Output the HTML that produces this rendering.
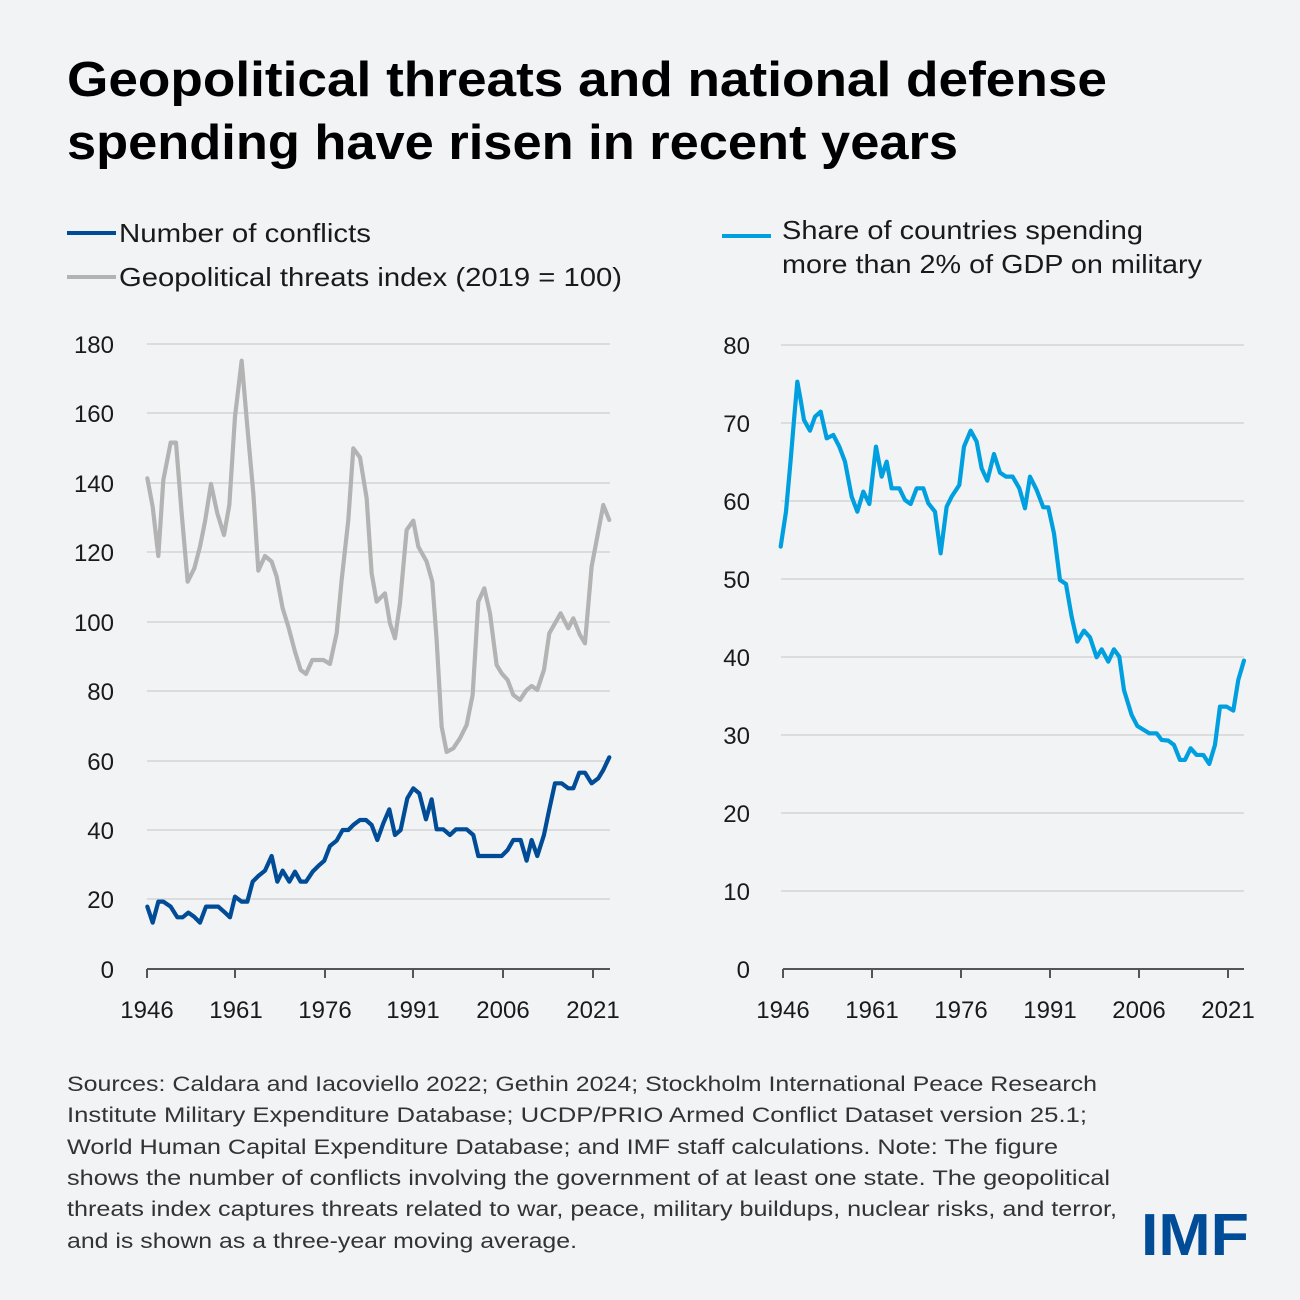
<!DOCTYPE html>
<html><head><meta charset="utf-8"><style>
html,body{margin:0;padding:0;background:#f2f3f5;}
svg{display:block;}
text{font-family:"Liberation Sans",sans-serif;fill:#1a1a1a;}
</style></head><body>
<svg width="1300" height="1300" viewBox="0 0 1300 1300" xmlns="http://www.w3.org/2000/svg">
<rect width="1300" height="1300" fill="#f2f3f5"/>
<text x="67" y="96" font-size="49" font-weight="bold" textLength="1040" lengthAdjust="spacingAndGlyphs" style="fill:#000">Geopolitical threats and national defense</text>
<text x="67" y="159" font-size="49" font-weight="bold" textLength="891" lengthAdjust="spacingAndGlyphs" style="fill:#000">spending have risen in recent years</text>

<line x1="67" y1="233" x2="116" y2="233" stroke="#004c97" stroke-width="4"/>
<text x="119" y="242" font-size="26" textLength="252" lengthAdjust="spacingAndGlyphs">Number of conflicts</text>
<line x1="67" y1="277" x2="116" y2="277" stroke="#b3b3b3" stroke-width="4"/>
<text x="119" y="286" font-size="26" textLength="503" lengthAdjust="spacingAndGlyphs">Geopolitical threats index (2019 = 100)</text>
<line x1="722" y1="236" x2="771" y2="236" stroke="#009fdf" stroke-width="4"/>
<text x="782" y="239" font-size="26" textLength="361" lengthAdjust="spacingAndGlyphs">Share of countries spending</text>
<text x="782" y="273" font-size="26" textLength="420" lengthAdjust="spacingAndGlyphs">more than 2% of GDP on military</text>

<g stroke="#dcdcdc" stroke-width="2">
<line x1="147" y1="344" x2="610" y2="344"/><line x1="147" y1="413" x2="610" y2="413"/><line x1="147" y1="483" x2="610" y2="483"/><line x1="147" y1="552" x2="610" y2="552"/><line x1="147" y1="622" x2="610" y2="622"/><line x1="147" y1="691" x2="610" y2="691"/><line x1="147" y1="761" x2="610" y2="761"/><line x1="147" y1="830" x2="610" y2="830"/><line x1="147" y1="899" x2="610" y2="899"/>
<line x1="781" y1="345" x2="1244" y2="345"/><line x1="781" y1="423" x2="1244" y2="423"/><line x1="781" y1="501" x2="1244" y2="501"/><line x1="781" y1="579" x2="1244" y2="579"/><line x1="781" y1="657" x2="1244" y2="657"/><line x1="781" y1="735" x2="1244" y2="735"/><line x1="781" y1="813" x2="1244" y2="813"/><line x1="781" y1="891" x2="1244" y2="891"/>
</g>
<g font-size="24" text-anchor="end">
<text x="114" y="353">180</text><text x="114" y="422">160</text><text x="114" y="492">140</text><text x="114" y="561">120</text><text x="114" y="631">100</text><text x="114" y="700">80</text><text x="114" y="770">60</text><text x="114" y="839">40</text><text x="114" y="908">20</text><text x="114" y="978">0</text>
<text x="750" y="354">80</text><text x="750" y="432">70</text><text x="750" y="510">60</text><text x="750" y="588">50</text><text x="750" y="666">40</text><text x="750" y="744">30</text><text x="750" y="822">20</text><text x="750" y="900">10</text><text x="750" y="978">0</text>
</g>
<g stroke="#555" stroke-width="2" fill="none">
<path d="M147 969H610M147 969v9M235 969v9M325 969v9M413 969v9M503 969v9M593 969v9"/>
<path d="M783 969H1244M783 969v9M872 969v9M961 969v9M1050 969v9M1139 969v9M1228 969v9"/>
</g>
<g font-size="24" text-anchor="middle">
<text x="147" y="1018">1946</text><text x="236" y="1018">1961</text><text x="325" y="1018">1976</text><text x="413" y="1018">1991</text><text x="503" y="1018">2006</text><text x="593" y="1018">2021</text>
<text x="783" y="1018">1946</text><text x="872" y="1018">1961</text><text x="961" y="1018">1976</text><text x="1050" y="1018">1991</text><text x="1139" y="1018">2006</text><text x="1228" y="1018">2021</text>
</g>

<g transform="translate(140,340) scale(0.3333)" fill="none" stroke-linejoin="round" stroke-linecap="round">
<polyline vector-effect="non-scaling-stroke" stroke="#b3b3b3" stroke-width="4.2" points="22,415 38,500 55,648 70,420 92,308 108,308 125,520 143,725 163,685 180,620 195,545 213,432 232,520 252,585 268,495 285,230 305,62 322,260 340,460 355,692 375,648 395,665 410,710 428,805 445,860 465,935 482,990 498,1002 517,960 550,960 570,972 590,880 605,720 625,540 640,325 660,352 680,475 695,700 710,785 735,760 750,850 765,895 780,790 800,570 820,542 835,620 860,665 877,725 890,900 905,1160 920,1236 940,1225 960,1195 980,1155 998,1065 1015,785 1033,745 1050,820 1070,975 1085,1000 1103,1020 1120,1065 1140,1080 1160,1050 1175,1038 1192,1050 1212,990 1228,880 1262,820 1285,865 1300,835 1320,885 1335,910 1355,680 1390,495 1408,540"/>
</g>
<g transform="translate(140,740) scale(0.3333)" fill="none" stroke-linejoin="round" stroke-linecap="round">
<polyline vector-effect="non-scaling-stroke" stroke="#004c97" stroke-width="4.2" points="22,500 38,548 55,485 70,485 92,500 112,532 128,532 145,518 162,530 180,548 198,500 235,500 252,515 270,532 285,470 305,485 322,485 338,425 355,408 375,392 395,348 412,425 428,392 448,425 465,395 482,425 498,425 518,395 535,378 553,362 570,318 590,302 608,270 625,270 640,255 660,240 678,240 695,255 712,300 730,250 748,208 765,285 782,270 802,175 820,145 838,160 858,238 875,178 890,268 910,268 930,285 948,268 980,268 1000,285 1015,348 1085,348 1103,330 1120,300 1142,300 1160,362 1175,300 1192,348 1212,285 1228,208 1245,130 1265,130 1285,145 1300,145 1318,98 1335,98 1355,130 1375,115 1390,90 1408,52"/>
</g>
<g transform="translate(770,360) scale(0.3333)" fill="none" stroke-linejoin="round" stroke-linecap="round">
<polyline vector-effect="non-scaling-stroke" stroke="#009fdf" stroke-width="4.2" points="32,560 48,455 62,300 72,180 82,65 92,120 102,180 120,212 135,170 152,155 170,235 190,225 208,260 225,305 245,410 262,455 280,395 298,432 318,260 335,350 350,305 365,385 388,385 405,420 422,432 440,385 460,385 475,430 495,455 512,580 530,440 545,410 568,375 582,260 602,212 620,245 635,325 652,362 672,282 690,338 708,350 728,350 748,385 765,445 780,350 800,390 820,442 835,442 852,520 870,660 888,672 905,770 922,845 942,812 960,832 980,892 995,868 1015,905 1032,868 1048,890 1062,990 1085,1065 1102,1098 1138,1120 1160,1120 1175,1140 1195,1142 1212,1155 1230,1200 1245,1200 1262,1165 1280,1185 1300,1185 1318,1212 1335,1155 1350,1040 1370,1040 1390,1052 1405,960 1422,902"/>
</g>

<g font-size="21.5">
<text x="67" y="1091" textLength="1030" lengthAdjust="spacingAndGlyphs" style="fill:#333">Sources: Caldara and Iacoviello 2022; Gethin 2024; Stockholm International Peace Research</text>
<text x="67" y="1122" textLength="1020" lengthAdjust="spacingAndGlyphs" style="fill:#333">Institute Military Expenditure Database; UCDP/PRIO Armed Conflict Dataset version 25.1;</text>
<text x="67" y="1154" textLength="991" lengthAdjust="spacingAndGlyphs" style="fill:#333">World Human Capital Expenditure Database; and IMF staff calculations. Note: The figure</text>
<text x="67" y="1185" textLength="1043" lengthAdjust="spacingAndGlyphs" style="fill:#333">shows the number of conflicts involving the government of at least one state. The geopolitical</text>
<text x="67" y="1216" textLength="1050" lengthAdjust="spacingAndGlyphs" style="fill:#333">threats index captures threats related to war, peace, military buildups, nuclear risks, and terror,</text>
<text x="67" y="1248" textLength="510" lengthAdjust="spacingAndGlyphs" style="fill:#333">and is shown as a three-year moving average.</text>
</g>
<text x="1141" y="1255" font-size="59" font-weight="bold" textLength="108" lengthAdjust="spacingAndGlyphs" style="fill:#004c97">IMF</text>
</svg>
</body></html>
